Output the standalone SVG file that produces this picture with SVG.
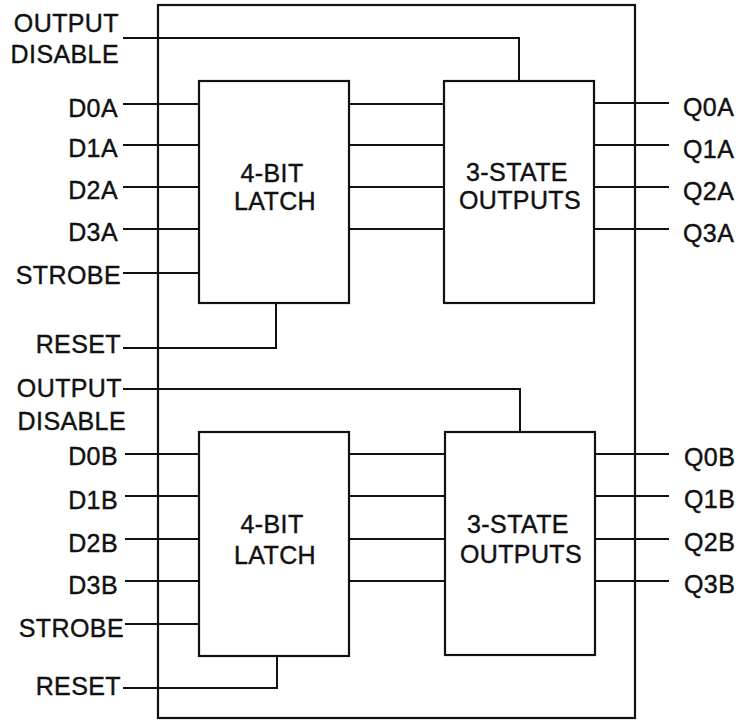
<svg xmlns="http://www.w3.org/2000/svg" width="742" height="721" viewBox="0 0 742 721">
<style>
.bx{fill:none;stroke:#111;stroke-width:2.2}
.ln{fill:none;stroke:#111;stroke-width:2}
text{font-family:"Liberation Sans",Arial,Helvetica,sans-serif;font-size:25px;fill:#111;stroke:#111;stroke-width:0.4;letter-spacing:0.4px}
.r{text-anchor:end}
.c{text-anchor:middle}
</style>
<rect width="742" height="721" fill="#fff"/>
<g id="package"><rect class="bx" x="158" y="5" width="477" height="713"/></g>
<g id="latchA"><rect class="bx" x="199" y="81" width="150" height="222"/><text class="c" x="272" y="182">4-BIT</text><text class="c" x="275" y="210">LATCH</text></g>
<g id="outA"><rect class="bx" x="444" y="81" width="150" height="222"/><text class="c" x="517" y="181">3-STATE</text><text class="c" x="520" y="209">OUTPUTS</text></g>
<g id="latchB"><rect class="bx" x="199" y="432" width="150" height="224"/><text class="c" x="272" y="533">4-BIT</text><text class="c" x="275" y="564">LATCH</text></g>
<g id="outB"><rect class="bx" x="445" y="432" width="150" height="223"/><text class="c" x="518" y="533">3-STATE</text><text class="c" x="521" y="563">OUTPUTS</text></g>
<g id="labels">
<text class="r" x="119" y="32">OUTPUT</text>
<text class="r" x="119" y="63">DISABLE</text>
<text class="r" x="118" y="117">D0A</text>
<text class="r" x="118" y="157">D1A</text>
<text class="r" x="118" y="199">D2A</text>
<text class="r" x="118" y="241">D3A</text>
<text class="r" x="121" y="284">STROBE</text>
<text class="r" x="121" y="353">RESET</text>
<text class="r" x="122" y="397">OUTPUT</text>
<text class="r" x="126" y="430">DISABLE</text>
<text class="r" x="118" y="465">D0B</text>
<text class="r" x="118" y="509">D1B</text>
<text class="r" x="118" y="552">D2B</text>
<text class="r" x="118" y="594">D3B</text>
<text class="r" x="124" y="637">STROBE</text>
<text class="r" x="121" y="695">RESET</text>
<text x="683" y="116">Q0A</text>
<text x="683" y="158">Q1A</text>
<text x="683" y="200">Q2A</text>
<text x="683" y="242">Q3A</text>
<text x="684" y="466">Q0B</text>
<text x="684" y="508">Q1B</text>
<text x="684" y="551">Q2B</text>
<text x="684" y="593">Q3B</text>
</g>
<g id="connectors" class="ln">
<path class="ln" d="M123 38H519V81"/>
<path class="ln" d="M123 104H199M123 145H199M123 187H199M123 229H199M123 273H199"/>
<path class="ln" d="M349 104H444M349 145H444M349 187H444M349 229H444"/>
<path class="ln" d="M594 103H669M594 145H669M594 187H669M594 229H669"/>
<path class="ln" d="M123 348H276V303"/>
<path class="ln" d="M123 389H520V432"/>
<path class="ln" d="M125 454H199M125 496H199M125 539H199M125 581H199M125 624H199"/>
<path class="ln" d="M349 454H445M349 496H445M349 539H445M349 581H445"/>
<path class="ln" d="M595 454H669M595 496H669M595 539H669M595 581H669"/>
<path class="ln" d="M123 688H277V656"/>
</g>
</svg>
